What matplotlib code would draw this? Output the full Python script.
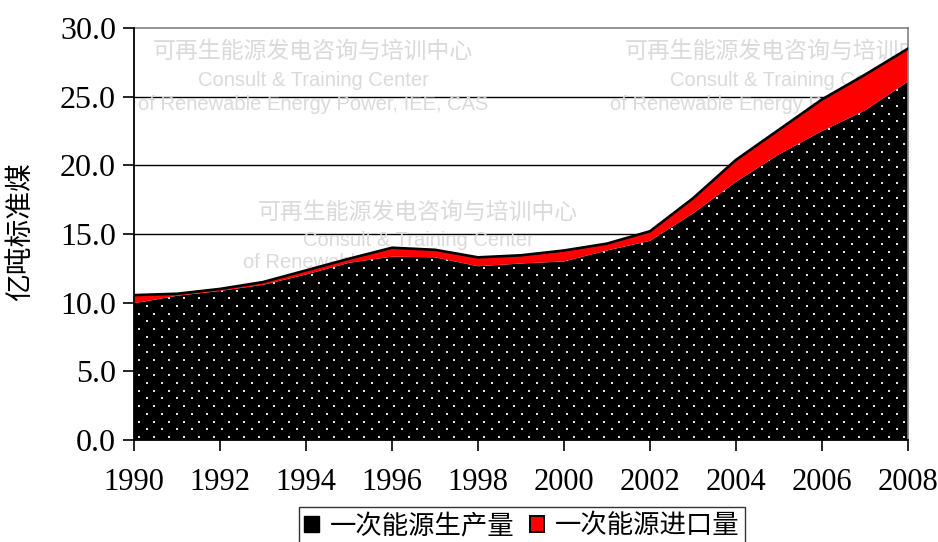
import numpy as np
import matplotlib
matplotlib.use("Agg")
import matplotlib.pyplot as plt
from matplotlib.patches import Patch

plt.rcParams['font.family'] = ['Liberation Serif', 'Noto Sans CJK SC', 'DejaVu Sans']

# Primary energy in China (100 Mt standard coal equivalent)
years = np.arange(1990, 2009)
production = [9.95, 10.5, 10.85, 11.3, 12.05, 12.9, 13.35, 13.3, 12.65, 12.85,
              13.0, 13.8, 14.5, 16.5, 18.8, 20.8, 22.5, 24.0, 26.1]
imports = [0.6, 0.15, 0.15, 0.2, 0.3, 0.3, 0.65, 0.55, 0.65, 0.6,
           0.8, 0.5, 0.7, 1.1, 1.6, 1.8, 2.3, 2.6, 2.4]
yticks = [0, 5, 10, 15, 20, 25, 30]
xticks = list(range(1990, 2009, 2))
series_names = ["一次能源生产量", "一次能源进口量"]
ylabel = "亿吨标准煤"
mark_cn = "可再生能源发电咨询与培训中心"
mark_en1 = "Consult & Training Center"
mark_en2 = "of Renewable Energy Power, IEE, CAS"

production = np.array(production)
total = production + np.array(imports)

W, H = 938, 542
fig = plt.figure(figsize=(W / 100, H / 100), dpi=100)
ax = fig.add_axes([134 / W, 1 - 440 / H, (908 - 134) / W, (440 - 28) / H])
ax.set_xlim(1990, 2008)
ax.set_ylim(0, 30)

px_per_year = (908 - 134) / 18.0
px_per_unit = (440 - 28) / 30.0


def xpix(px):
    return 1990 + (px - 134) / px_per_year


def ypix(py):
    return (440 - py) / px_per_unit


# light watermark blocks behind the data
def watermark(xc, rows):
    kw = dict(ha='center', va='center', zorder=1.5, clip_on=True)
    ax.text(xc, rows[0], mark_cn, fontsize=16.5, color='#dadada',
            family=['Noto Sans CJK SC'], **kw)
    ax.text(xc, rows[1], mark_en1, fontsize=14.5, color='#dadada',
            family=['Liberation Sans'], **kw)
    ax.text(xc, rows[2], mark_en2, fontsize=14.5, color='#dadada',
            family=['Liberation Sans'], **kw)


watermark(xpix(313), [ypix(51), ypix(80), ypix(104)])
watermark(xpix(785), [ypix(51), ypix(80), ypix(104)])
watermark(xpix(418), [ypix(212), ypix(240), ypix(263)])

# horizontal gridlines
for yv in yticks[1:-1]:
    ax.axhline(yv, color='black', lw=1.0, zorder=1)

# stacked areas
base = ax.fill_between(years, 0, production, facecolor='black',
                       linewidth=0, zorder=2)
ax.fill_between(years, production, total, facecolor='#ff0000', linewidth=0,
                zorder=2)
ax.plot(years, total, color='black', lw=1.9, zorder=3,
        solid_joinstyle='miter')

# dotted texture on the production area (staggered rows)
dx = 15.0 / px_per_year
dy = 7.7 / px_per_unit
gx, gy = [], []
for i, yy in enumerate(np.arange(dy * 0.4, 30, dy)):
    off = 0.0 if i % 2 == 0 else dx / 2
    xs = np.arange(1990 + dx * 0.35 + off, 2008, dx)
    gx.extend(xs)
    gy.extend([yy] * len(xs))
dots = ax.scatter(gx, gy, s=3.0, marker='s', color='#e2e2e2', linewidths=0,
                  zorder=2.5)
dots.set_clip_path(base.get_paths()[0], ax.transData)

ax.set_yticks(yticks)
ax.set_yticklabels([f"{v:.1f}" for v in yticks], fontsize=23)
ax.set_xticks(xticks)
ax.set_xticklabels([str(v) for v in xticks], fontsize=22)
ax.tick_params(axis='y', direction='out', length=8, width=1.2, pad=5)
ax.tick_params(axis='x', direction='out', length=8, width=1.2, pad=12)

for s in ['top', 'right']:
    ax.spines[s].set_color('#808080')
    ax.spines[s].set_linewidth(1.2)
for s in ['left', 'bottom']:
    ax.spines[s].set_color('black')
    ax.spines[s].set_linewidth(1.3)
    ax.spines[s].set_zorder(4)

fig.text(20 / W, 1 - 232 / H, ylabel, rotation=90, ha='center',
         va='center', fontsize=20, family=['Noto Sans CJK SC'])

handles = [Patch(facecolor='black', edgecolor='black', linewidth=1.0),
           Patch(facecolor='#ff0000', edgecolor='black', linewidth=1.4)]
leg = fig.legend(handles, series_names, loc='upper center',
                 bbox_to_anchor=(522 / W, 1 - 507 / H), ncol=2,
                 frameon=True, fancybox=False, edgecolor='black',
                 prop={'family': ['Noto Sans CJK SC'], 'size': 19},
                 handlelength=0.55, handleheight=0.55, handletextpad=0.4,
                 columnspacing=0.6, borderpad=0.2, borderaxespad=0)
leg.get_frame().set_linewidth(1.0)

fig.savefig("out.png", dpi=100)
